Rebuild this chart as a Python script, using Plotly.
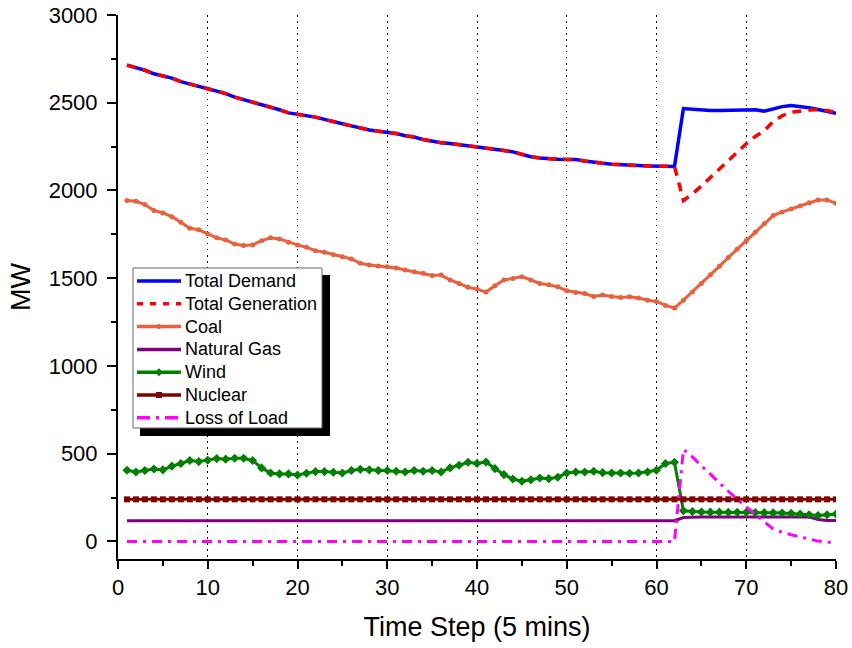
import plotly.graph_objects as go

time_step = list(range(1, 81))

total_demand = [2714, 2700, 2685, 2665, 2652, 2640, 2620, 2605, 2595, 2580,
                2566, 2552, 2532, 2518, 2500, 2486, 2476, 2460, 2442, 2435,
                2425, 2418, 2405, 2390, 2380, 2368, 2356, 2345, 2338, 2332,
                2325, 2312, 2305, 2290, 2280, 2272, 2268, 2262, 2256, 2250,
                2240, 2234, 2228, 2220, 2205, 2192, 2185, 2180, 2178, 2177,
                2176, 2168, 2160, 2155, 2150, 2146, 2144, 2142, 2140, 2139,
                2138, 2137, 2467, 2462, 2458, 2456, 2456, 2458, 2460, 2462,
                2460, 2452, 2465, 2478, 2484, 2480, 2472, 2462, 2452, 2440]

total_generation = [2714, 2700, 2685, 2665, 2652, 2640, 2620, 2605, 2595, 2580,
                    2566, 2552, 2532, 2518, 2500, 2486, 2476, 2460, 2442, 2435,
                    2425, 2418, 2405, 2390, 2380, 2368, 2356, 2345, 2338, 2332,
                    2325, 2312, 2305, 2290, 2280, 2272, 2268, 2262, 2256, 2250,
                    2240, 2234, 2228, 2220, 2205, 2192, 2185, 2180, 2178, 2177,
                    2176, 2168, 2160, 2155, 2150, 2146, 2144, 2142, 2140, 2139,
                    2138, 2137, 1943, 1980, 2026, 2074, 2122, 2172, 2220, 2266,
                    2308, 2340, 2393, 2426, 2446, 2454, 2458, 2460, 2456, 2445]

coal = [1943, 1939, 1920, 1886, 1872, 1851, 1819, 1785, 1776, 1752,
        1730, 1718, 1695, 1686, 1690, 1714, 1730, 1724, 1705, 1690,
        1676, 1657, 1648, 1634, 1623, 1610, 1585, 1575, 1570, 1566,
        1558, 1547, 1537, 1528, 1516, 1518, 1490, 1470, 1448, 1438,
        1421, 1457, 1490, 1499, 1509, 1490, 1470, 1463, 1451, 1429,
        1419, 1413, 1396, 1404, 1396, 1390, 1394, 1387, 1375, 1368,
        1345, 1330, 1375, 1422, 1470, 1520, 1568, 1618, 1666, 1714,
        1762, 1810, 1857, 1878, 1895, 1912, 1930, 1946, 1946, 1927]

natural_gas = [118] * 62 + [136] + [140] * 14 + [125, 120, 120]

wind = [406, 396, 404, 413, 408, 429, 444, 461, 455, 463,
        472, 469, 474, 474, 461, 419, 390, 385, 385, 379,
        389, 398, 398, 394, 390, 404, 411, 408, 404, 404,
        400, 396, 404, 400, 404, 396, 419, 434, 451, 444,
        453, 415, 381, 356, 343, 352, 362, 358, 366, 390,
        396, 396, 400, 392, 390, 390, 389, 390, 396, 406,
        444, 451, 175, 170, 168, 167, 167, 166, 166, 166,
        165, 164, 163, 162, 160, 156, 152, 148, 152, 156]

nuclear = [240] * 80

loss_of_load = [0] * 62 + [524, 482, 432, 382, 334, 286, 240, 196,
                           152, 112, 72, 52, 38, 26, 14, 2, -4, -5]

series_names = ["Total Demand", "Total Generation", "Coal", "Natural Gas",
                "Wind", "Nuclear", "Loss of Load"]

x_ticks = [0, 10, 20, 30, 40, 50, 60, 70, 80]
grid_ticks = [10, 20, 30, 40, 50, 60, 70]
y_ticks = [0, 500, 1000, 1500, 2000, 2500, 3000]

# styles
styles = {
    "Total Demand": dict(color="#0000FF", width=3.5, dash="solid", marker=None),
    "Total Generation": dict(color="#FF0000", width=3.5, dash="9px,7px", marker=None),
    "Coal": dict(color="#E9603F", width=3, dash="solid", marker="circle"),
    "Natural Gas": dict(color="#800080", width=3, dash="solid", marker=None),
    "Wind": dict(color="#008000", width=3, dash="solid", marker="diamond"),
    "Nuclear": dict(color="#800000", width=3, dash="solid", marker="square"),
    "Loss of Load": dict(color="#FF00FF", width=3, dash="10px,6px,3px,6px", marker=None),
}
marker_sizes = {"circle": 5, "diamond": 7, "square": 6}
series_values = [total_demand, total_generation, coal, natural_gas, wind, nuclear, loss_of_load]

fig = go.Figure()
for name, vals in zip(series_names, series_values):
    st = styles[name]
    kw = dict(x=time_step, y=vals, name=name, showlegend=False,
              line=dict(color=st["color"], width=st["width"], dash=st["dash"]))
    if st["marker"]:
        kw["mode"] = "lines+markers"
        kw["marker"] = dict(symbol=st["marker"], size=marker_sizes[st["marker"]], color=st["color"])
    else:
        kw["mode"] = "lines"
    fig.add_trace(go.Scatter(**kw))

# overlay axis used only for the dotted vertical grid lines
fig.add_trace(go.Scatter(x=[0, 80], y=[None, None], xaxis="x2", showlegend=False,
                         hoverinfo="skip", mode="lines"))

font_family = "Liberation Sans, Arial, sans-serif"

W, H = 852, 648
ML, MR, MT, MB = 118, 16, 15, 89
PW, PH = W - ML - MR, H - MT - MB
OFF = 0  # page body margin is removed below


def px(xp):
    return (xp - OFF - ML) / PW


def py(yp):
    return (H - MB - (yp - OFF)) / PH


# hand-drawn legend box with drop shadow
shapes = [
    dict(type="rect", xref="paper", yref="paper",
         x0=px(140), x1=px(330), y0=py(436), y1=py(275),
         fillcolor="black", line=dict(width=0), layer="above"),
    dict(type="rect", xref="paper", yref="paper",
         x0=px(133), x1=px(322), y0=py(428), y1=py(268),
         fillcolor="white", line=dict(color="#666666", width=1), layer="above"),
]
annotations = []
row_y0, row_step = 281, 22.8
for i, name in enumerate(series_names):
    st = styles[name]
    yy = row_y0 + i * row_step
    shapes.append(dict(type="line", xref="paper", yref="paper",
                       x0=px(137), x1=px(181), y0=py(yy), y1=py(yy),
                       line=dict(color=st["color"], width=3.5,
                                 dash="6px,7px" if name == "Total Generation" else
                                 ("13px,6px,3px,6px" if name == "Loss of Load" else "solid")),
                       layer="above"))
    m = st["marker"]
    if m == "circle":
        shapes.append(dict(type="circle", xref="paper", yref="paper",
                           x0=px(156.5), x1=px(161.5), y0=py(yy + 2.5), y1=py(yy - 2.5),
                           fillcolor=st["color"], line=dict(width=0), layer="above"))
    elif m == "square":
        shapes.append(dict(type="rect", xref="paper", yref="paper",
                           x0=px(156), x1=px(162), y0=py(yy + 3), y1=py(yy - 3),
                           fillcolor=st["color"], line=dict(width=0), layer="above"))
    elif m == "diamond":
        cx, cy = px(159), py(yy)
        dx, dy = 4 / PW, 4 / PH
        shapes.append(dict(type="path", xref="paper", yref="paper",
                           path=f"M {cx - dx} {cy} L {cx} {cy + dy} L {cx + dx} {cy} L {cx} {cy - dy} Z",
                           fillcolor=st["color"], line=dict(width=0), layer="above"))
    annotations.append(dict(xref="paper", yref="paper", x=px(183), y=py(yy),
                            xanchor="left", yanchor="middle", showarrow=False,
                            text=name, font=dict(size=18, family=font_family, color="black")))

fig.update_layout(
    width=W, height=H,
    margin=dict(l=ML, r=MR, t=MT, b=MB),
    paper_bgcolor="white", plot_bgcolor="white",
    font=dict(family=font_family, color="black"),
    showlegend=False,
    xaxis=dict(range=[0, 80], tickvals=x_ticks, ticktext=[str(v) for v in x_ticks],
               automargin=False, ticklabeloverflow="allow",
               showgrid=False, zeroline=False,
               showline=True, linecolor="black", linewidth=2,
               ticks="outside", ticklen=8, tickwidth=2, tickcolor="black",
               minor=dict(dtick=5, tick0=0, ticks="outside", ticklen=5, tickwidth=2,
                          tickcolor="black", showgrid=False),
               tickfont=dict(size=22),
               title=dict(text="Time Step (5 mins)", font=dict(size=27), standoff=18)),
    xaxis2=dict(range=[0, 80], overlaying="x", matches="x", tickvals=grid_ticks,
                automargin=False,
                showgrid=True, gridcolor="black", gridwidth=1.3, griddash="1.5px,4.5px",
                showticklabels=False, ticks="", showline=False, zeroline=False,
                side="bottom"),
    yaxis=dict(range=[-100, 3000], tickvals=y_ticks, ticktext=[str(v) for v in y_ticks],
               automargin=False, ticklabeloverflow="allow",
               showgrid=False, zeroline=False,
               showline=True, linecolor="black", linewidth=2,
               ticks="outside", ticklen=9, tickwidth=2, tickcolor="black",
               ticklabelstandoff=5,
               minor=dict(dtick=250, tick0=0, ticks="outside", ticklen=5, tickwidth=2,
                          tickcolor="black", showgrid=False),
               tickfont=dict(size=22),
               title=dict(text="MW", font=dict(size=27), standoff=10)),
    shapes=shapes,
    annotations=annotations,
)

fig.write_html("out.html", config={"displayModeBar": False},
               post_script="document.body.style.margin='0px';")
